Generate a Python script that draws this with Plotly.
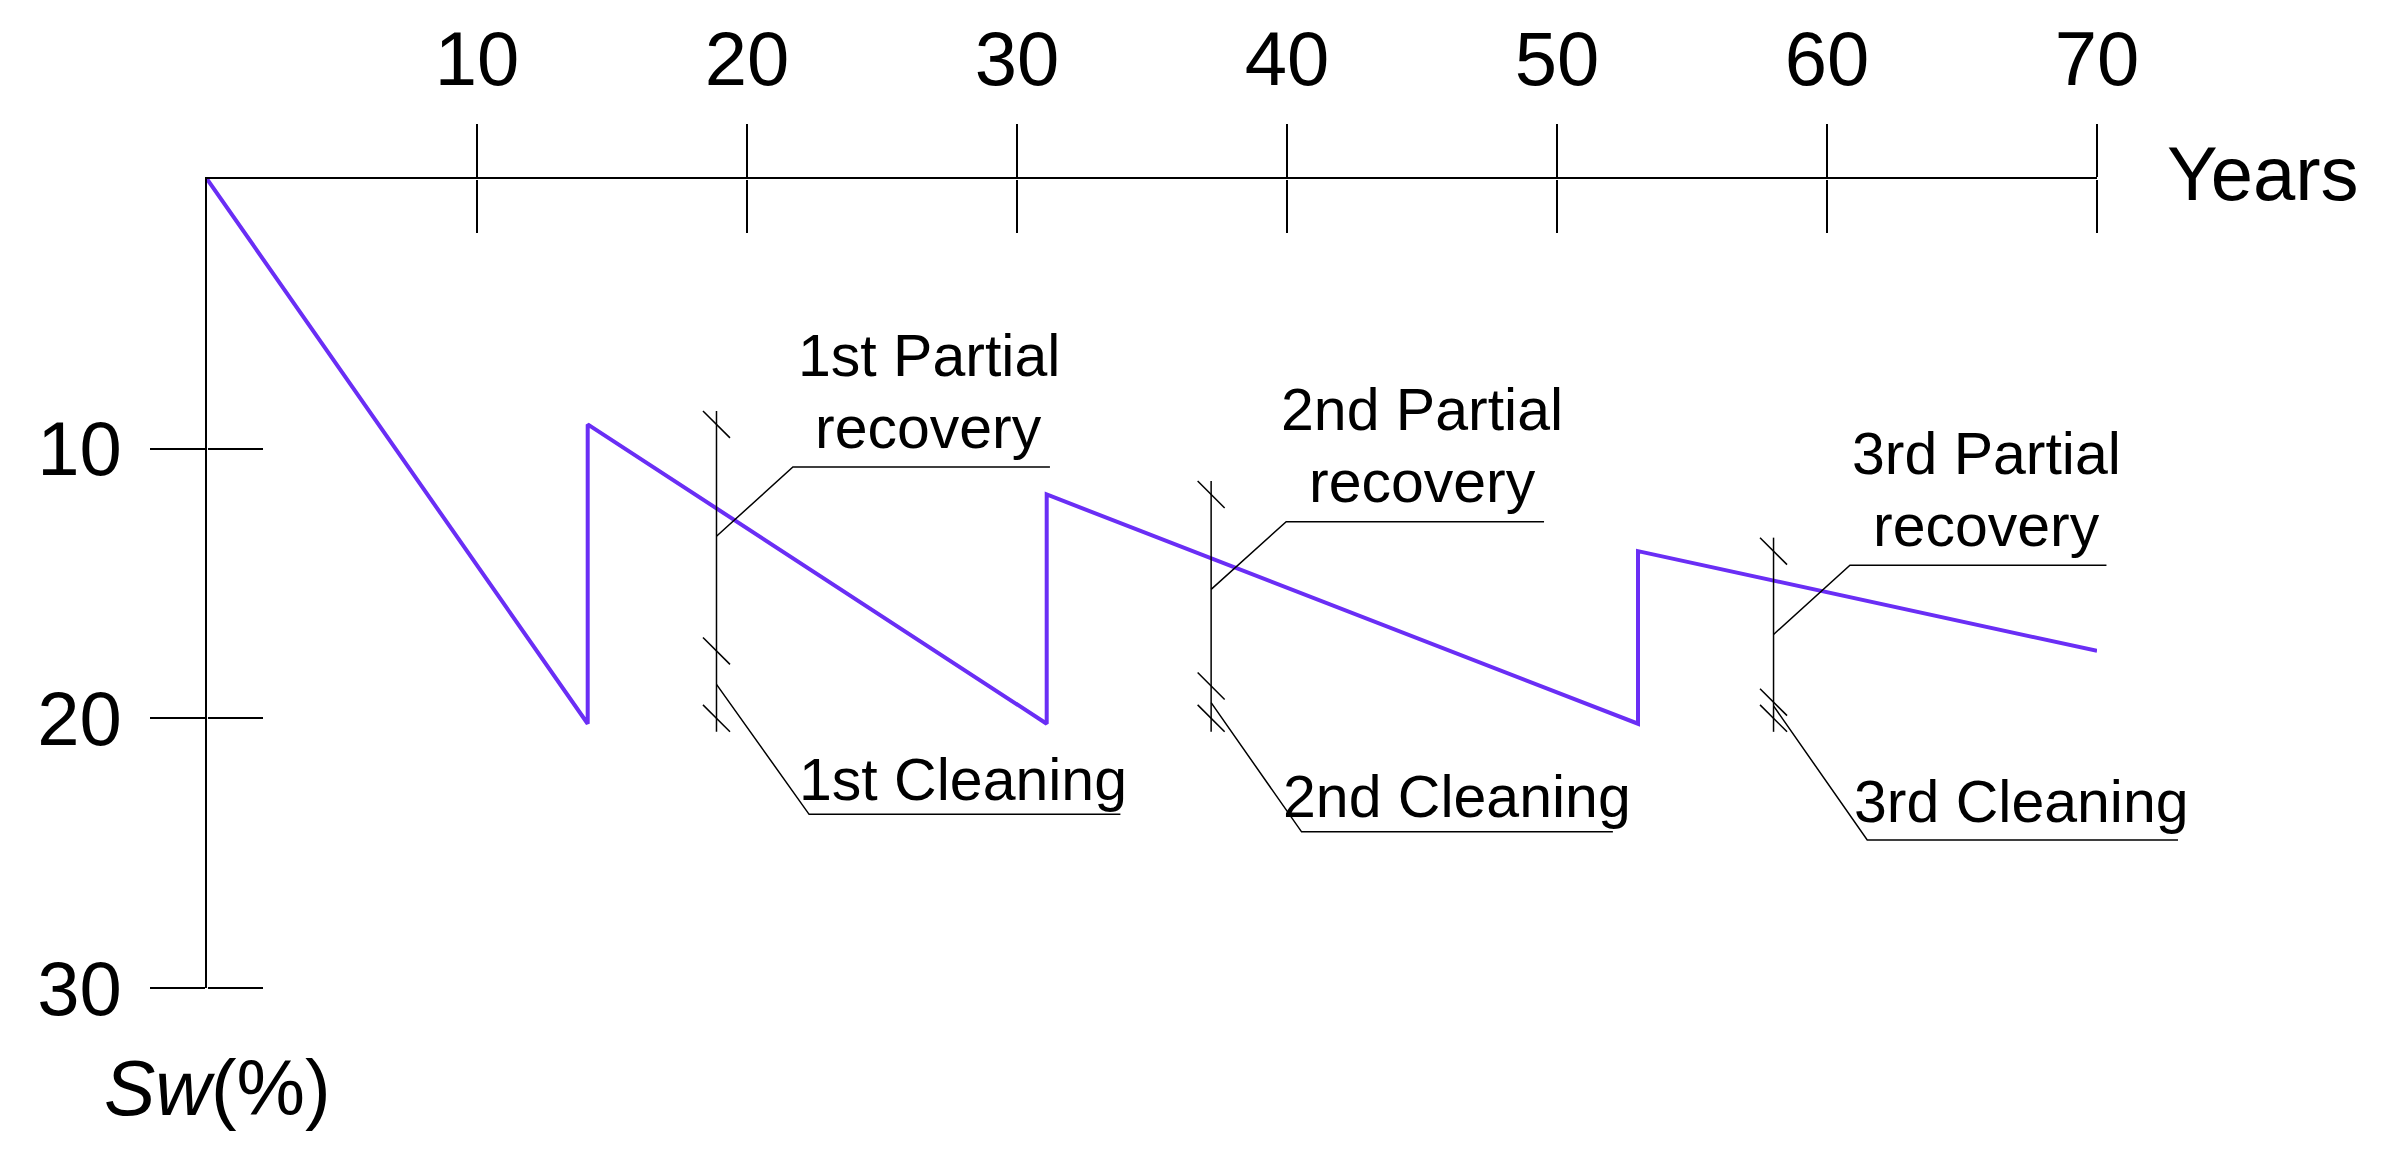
import plotly.graph_objects as go

# saturation curve (years, Sw %)
years = [0, 14.1, 14.1, 31.1, 31.1, 53.0, 53.0, 70.0]
sw = [0, 20.2, 9.1, 20.2, 11.7, 20.2, 13.8, 17.5]

x_ticks = [10, 20, 30, 40, 50, 60, 70]
y_ticks = [10, 20, 30]

# dimension marks for each intervention
mark_years = [18.87, 37.19, 58.02]
mark_top = [9.1, 11.7, 13.8]
mark_mid = [17.5, 18.8, 19.4]
mark_bottom = [20.0, 20.0, 20.0]

# leader lines: start on the mark, elbow, end of underline
rec_start = [13.25, 15.22, 16.89]
rec_elbow_x = [21.70, 39.97, 60.85]
rec_elbow_y = [10.68, 12.71, 14.32]
rec_end_x = [31.22, 49.52, 70.35]
cln_start = [18.74, 19.42, 19.54]
cln_elbow_x = [22.30, 40.54, 61.49]
cln_elbow_y = [23.56, 24.21, 24.51]
cln_end_x = [33.83, 52.07, 73.0]

rec_line1 = ["1st Partial", "2nd Partial", "3rd Partial"]
rec_line2 = ["recovery", "recovery", "recovery"]
rec_label_x = [26.74, 45.0, 65.9]
rec_line1_y = [6.58, 8.58, 10.2]
rec_line2_y = [9.25, 11.24, 12.85]
cln_labels = ["1st Cleaning", "2nd Cleaning", "3rd Cleaning"]
cln_label_x = [28.0, 46.3, 67.2]
cln_label_y = [22.3, 22.9, 23.1]

FONT = "Liberation Sans, Arial, sans-serif"
W, H = 2401, 1170
X0, X1 = 207 / W, 2097 / W          # plot domain (paper fractions)
Y0, Y1 = 1 - 988 / H, 1 - 179 / H
XR, YR = [0, 70], [30, 0]

# full-page helper axes with the same data scale (not clipped at 70 / 30)
sx = (XR[1] - XR[0]) / (X1 - X0)
sy = (YR[0] - YR[1]) / (Y1 - Y0)
xr_full = [XR[0] - X0 * sx, XR[1] + (1 - X1) * sx]
yr_full = [YR[0] + Y0 * sy, YR[1] - (1 - Y1) * sy]

fig = go.Figure()
fig.add_trace(go.Scatter(x=years, y=sw, mode="lines",
                         line=dict(color="#6a2ef5", width=4),
                         hoverinfo="skip", showlegend=False))

# dimension marks + leaders drawn as one broken line on the full-page axes
lx, ly = [], []
half = 0.5
for i, xm in enumerate(mark_years):
    lx += [xm, xm, None]
    ly += [mark_top[i] - half, mark_bottom[i] + half, None]
    for yc in (mark_top[i], mark_mid[i], mark_bottom[i]):
        lx += [xm - half, xm + half, None]
        ly += [yc - half, yc + half, None]
    lx += [xm, rec_elbow_x[i], rec_end_x[i], None]
    ly += [rec_start[i], rec_elbow_y[i], rec_elbow_y[i], None]
    lx += [xm, cln_elbow_x[i], cln_end_x[i], None]
    ly += [cln_start[i], cln_elbow_y[i], cln_elbow_y[i], None]
fig.add_trace(go.Scatter(x=lx, y=ly, xaxis="x3", yaxis="y3", mode="lines",
                         line=dict(color="black", width=1.5),
                         hoverinfo="skip", showlegend=False))

annotations = []
for i in range(3):
    for txt, yy in ((rec_line1[i], rec_line1_y[i]), (rec_line2[i], rec_line2_y[i])):
        annotations.append(dict(x=rec_label_x[i], y=yy, text=txt,
                                xanchor="center", yanchor="middle", font_size=59))
    annotations.append(dict(x=cln_label_x[i], y=cln_label_y[i], text=cln_labels[i],
                            xanchor="center", yanchor="middle", font_size=59))
annotations.append(dict(x=72.5, y=-0.2, text="Years", xanchor="left",
                        yanchor="middle", font_size=76))
annotations.append(dict(x=-3.9, y=33.7, text="<i>Sw</i>(%)", xanchor="left",
                        yanchor="middle", font_size=77))
for a in annotations:
    a.update(xref="x3", yref="y3", showarrow=False)
    a["font"] = dict(size=a.pop("font_size"), color="black", family=FONT)

tickfont = dict(size=76, color="black", family=FONT)
common = dict(showgrid=False, zeroline=False, automargin=False)
fig.update_layout(
    width=W, height=H, autosize=False,
    margin=dict(l=0, r=0, t=0, b=0, pad=0),
    paper_bgcolor="white", plot_bgcolor="rgba(0,0,0,0)",
    hovermode=False,
    xaxis=dict(domain=[X0, X1], range=XR, side="top", showline=True,
               linecolor="black", linewidth=2, ticks="outside", ticklen=53,
               tickwidth=1.5, tickcolor="black", tickvals=x_ticks,
               tickfont=tickfont, ticklabelstandoff=9, **common),
    yaxis=dict(domain=[Y0, Y1], range=YR, showline=True, linecolor="black",
               linewidth=2, ticks="outside", ticklen=55, tickwidth=1.5,
               tickcolor="black", tickvals=y_ticks, tickfont=tickfont,
               ticklabelstandoff=13, **common),
    # full-page axes: carry the inner half of the crossing ticks and the notes
    xaxis3=dict(domain=[0, 1], range=xr_full, anchor="free", position=Y1,
                side="top", ticks="inside", ticklen=53, tickwidth=1.5,
                tickcolor="black", tickvals=x_ticks, showticklabels=False,
                showline=False, **common),
    yaxis3=dict(domain=[0, 1], range=yr_full, anchor="free", position=X0,
                side="left", ticks="inside", ticklen=55, tickwidth=1.5,
                tickcolor="black", tickvals=y_ticks, showticklabels=False,
                showline=False, **common),
    annotations=annotations,
)

fig.write_html("out.html", config={"displayModeBar": False},
               post_script="document.body.style.margin='0';")
